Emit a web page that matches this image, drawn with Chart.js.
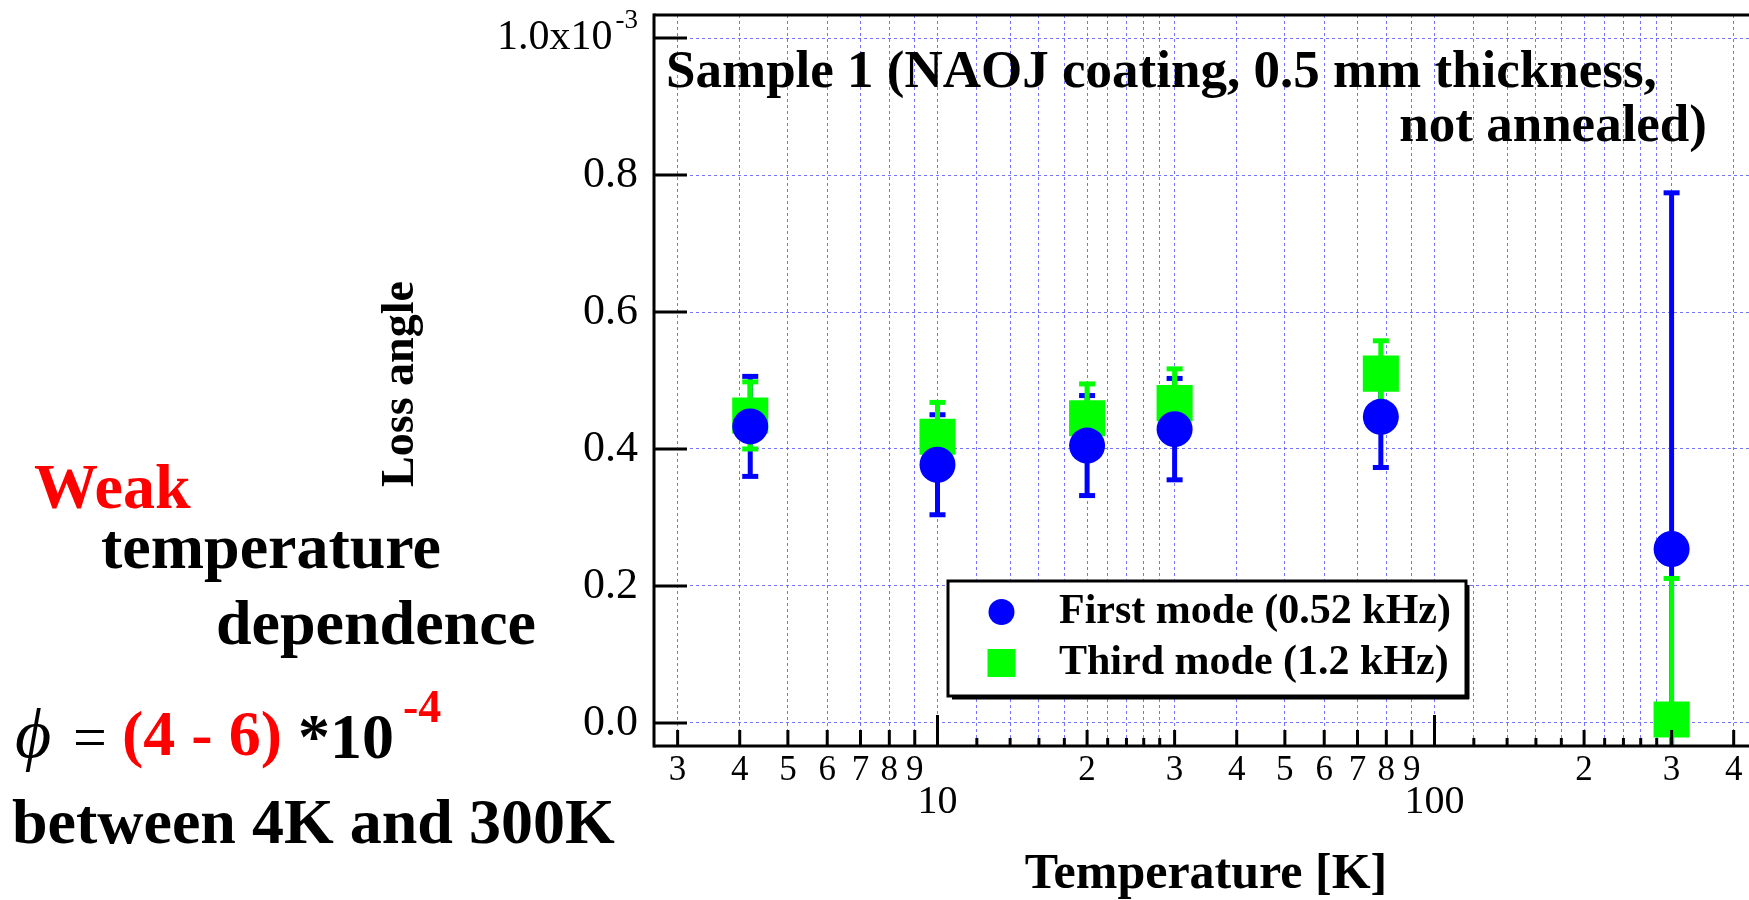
<!DOCTYPE html>
<html>
<head>
<meta charset="utf-8">
<script src="https://cdn.jsdelivr.net/npm/chart.js@4.4.0/dist/chart.umd.min.js"></script>
<style>
  html, body { margin: 0; padding: 0; background: #fff; }
</style>
</head>
<body>
<canvas id="lossChart" width="1749" height="900"></canvas>
<script>
// data (loss angle in units of 1e-3)
const temperatures = [4.2, 10, 20, 30, 78, 300];
const firstMode = [0.433, 0.377, 0.405, 0.429, 0.447, 0.254];
const firstModeErr = [0.073, 0.073, 0.073, 0.074, 0.074, 0.52];
const thirdMode = [0.449, 0.418, 0.445, 0.467, 0.510, 0.005];
const thirdModeErr = [0.049, 0.05, 0.05, 0.05, 0.048, 0.206];

const xTicks = [3,4,5,6,7,8,9,10,12,14,16,18,20,22,24,26,28,30,40,50,60,70,80,90,100,120,140,160,180,200,220,240,260,280,300,400];
const xTickLabels = ['3','4','5','6','7','8','9','10','','','','','2','','','','','3','4','5','6','7','8','9','100','','','','','2','','','','','3','4'];
const xMajor = [10, 100];
const yTicks = [0, 0.2, 0.4, 0.6, 0.8, 1.0];
const yTickLabels = ['0.0','0.2','0.4','0.6','0.8','1.0x10'];
const yExponent = '-3';

const serif = '"Liberation Serif", "Times New Roman", serif';
const gridBlue = 'rgba(90, 90, 255, 0.85)';

function line(ctx, x1, y1, x2, y2) {
  ctx.beginPath();
  ctx.moveTo(x1, y1);
  ctx.lineTo(x2, y2);
  ctx.stroke();
}

function drawErrors(ctx, xs, ys, vals, errs, color) {
  ctx.strokeStyle = color;
  ctx.lineWidth = 5;
  vals.forEach((v, i) => {
    const px = xs.getPixelForValue(temperatures[i]);
    const top = ys.getPixelForValue(v + errs[i]);
    const bot = ys.getPixelForValue(v - errs[i]);
    line(ctx, px, top, px, bot);
    line(ctx, px - 8, top, px + 8, top);
    line(ctx, px - 8, bot, px + 8, bot);
  });
}

const errorBars = {
  id: 'errorBars',
  beforeDatasetsDraw(chart) {
    const {ctx, chartArea: a, scales: {x, y}} = chart;
    ctx.save();
    ctx.beginPath();
    ctx.rect(a.left, a.top, a.right - a.left, a.bottom - a.top);
    ctx.clip();
    drawErrors(ctx, x, y, firstMode, firstModeErr, '#0000ff');
    drawErrors(ctx, x, y, thirdMode, thirdModeErr, '#00ff00');
    ctx.restore();
  }
};

const decorations = {
  id: 'decorations',
  afterDraw(chart) {
    const {ctx, chartArea: a, scales: {x, y}} = chart;
    ctx.save();

    // frame
    ctx.strokeStyle = '#000';
    ctx.lineWidth = 3;
    line(ctx, a.left, a.top, 1749, a.top);
    line(ctx, a.left, a.top - 1.5, a.left, a.bottom + 1.5);
    line(ctx, a.left, a.bottom, 1749, a.bottom);

    // inward ticks
    xTicks.forEach((v, i) => {
      const px = x.getPixelForValue(v);
      const len = xMajor.includes(v) ? 31 : (xTickLabels[i] ? 16 : 8);
      line(ctx, px, a.bottom, px, a.bottom - len);
    });
    yTicks.forEach(v => {
      const py = y.getPixelForValue(v);
      line(ctx, a.left, py, a.left + 33, py);
    });

    // tick labels
    ctx.fillStyle = '#000';
    ctx.textAlign = 'center';
    ctx.textBaseline = 'middle';
    xTicks.forEach((v, i) => {
      if (!xTickLabels[i]) return;
      const px = x.getPixelForValue(v);
      if (xMajor.includes(v)) {
        ctx.font = '40px ' + serif;
        ctx.fillText(xTickLabels[i], px, a.bottom + 56);
      } else {
        ctx.font = '35px ' + serif;
        ctx.fillText(xTickLabels[i], px, a.bottom + 25);
      }
    });
    ctx.textAlign = 'right';
    yTicks.forEach((v, i) => {
      const py = y.getPixelForValue(v);
      if (i === yTicks.length - 1) {
        ctx.font = '27px ' + serif;
        const ew = ctx.measureText(yExponent).width;
        ctx.fillText(yExponent, a.left - 16, py - 17);
        ctx.font = '42px ' + serif;
        ctx.fillText(yTickLabels[i], a.left - 19 - ew, py);
      } else {
        ctx.font = '44px ' + serif;
        ctx.fillText(yTickLabels[i], a.left - 16, py);
      }
    });

    // axis titles
    ctx.textBaseline = 'alphabetic';
    ctx.textAlign = 'center';
    ctx.font = 'bold 50px ' + serif;
    ctx.fillText('Temperature [K]', 1206, 888);
    ctx.save();
    ctx.translate(413, 384);
    ctx.rotate(-Math.PI / 2);
    ctx.font = 'bold 46px ' + serif;
    ctx.fillText('Loss angle', 0, 0);
    ctx.restore();

    // sample title
    ctx.font = 'bold 53px ' + serif;
    ctx.textAlign = 'left';
    ctx.fillText('Sample 1 (NAOJ coating, 0.5 mm thickness,', a.left + 12, 87);
    ctx.textAlign = 'right';
    ctx.fillText('not annealed)', 1707, 141);

    // legend
    const lx = 948, ly = 581, lw = 518, lh = 115;
    ctx.fillStyle = '#fff';
    ctx.fillRect(lx, ly, lw, lh);
    ctx.strokeStyle = '#000';
    ctx.lineWidth = 3;
    ctx.strokeRect(lx, ly, lw, lh);
    line(ctx, lx + lw + 2, ly + 4, lx + lw + 2, ly + lh + 3);
    line(ctx, lx + 4, ly + lh + 2, lx + lw + 3, ly + lh + 2);
    const rows = [612, 663];
    chart.data.datasets.forEach((ds, i) => {
      const cy = rows[i];
      ctx.fillStyle = ds.backgroundColor;
      if (ds.pointStyle === 'rect') {
        ctx.fillRect(1001.5 - 14, cy - 14, 28, 28);
      } else {
        ctx.beginPath();
        ctx.arc(1001.5, cy, 13, 0, Math.PI * 2);
        ctx.fill();
      }
      ctx.fillStyle = '#000';
      ctx.font = 'bold 42px ' + serif;
      ctx.textAlign = 'left';
      ctx.textBaseline = 'middle';
      ctx.fillText(ds.label, 1059, cy);
    });

    // annotation on the left
    ctx.textBaseline = 'alphabetic';
    ctx.textAlign = 'left';
    ctx.font = 'bold 64px ' + serif;
    ctx.fillStyle = '#ff0000';
    ctx.fillText('Weak', 34, 508);
    ctx.fillStyle = '#000';
    ctx.fillText('temperature', 101, 568);
    ctx.fillText('dependence', 216, 644);
    ctx.fillText('between 4K and 300K', 12, 843);

    ctx.font = 'italic 70px ' + serif;
    ctx.fillText('\u03D5', 15, 757);
    ctx.font = '60px ' + serif;
    ctx.fillText('=', 73, 757);
    ctx.font = 'bold 64px ' + serif;
    ctx.fillStyle = '#ff0000';
    ctx.fillText('(4 - 6)', 122, 755);
    ctx.fillStyle = '#000';
    ctx.fillText('*10', 298, 758);
    ctx.fillStyle = '#ff0000';
    ctx.font = 'bold 46px ' + serif;
    ctx.fillText('-4', 403, 722);

    ctx.restore();
  }
};

new Chart(document.getElementById('lossChart'), {
  type: 'scatter',
  data: {
    datasets: [
      {
        label: 'First mode (0.52 kHz)',
        data: temperatures.map((t, i) => ({x: t, y: firstMode[i]})),
        backgroundColor: '#0000ff',
        borderColor: '#0000ff',
        borderWidth: 0,
        pointStyle: 'circle',
        pointRadius: 18
      },
      {
        label: 'Third mode (1.2 kHz)',
        data: temperatures.map((t, i) => ({x: t, y: thirdMode[i]})),
        backgroundColor: '#00ff00',
        borderColor: '#00ff00',
        borderWidth: 0,
        pointStyle: 'rect',
        pointRadius: 25.5
      }
    ]
  },
  options: {
    responsive: false,
    devicePixelRatio: 1,
    animation: false,
    layout: { autoPadding: false, padding: { left: 654, top: 15, right: 0, bottom: 154 } },
    plugins: {
      legend: { display: false },
      tooltip: { enabled: false }
    },
    scales: {
      x: {
        type: 'logarithmic',
        min: 2.689,
        max: 429.4,
        afterBuildTicks: s => { s.ticks = xTicks.map(v => ({value: v})); },
        ticks: { display: false },
        grid: { color: gridBlue, lineWidth: 1, drawTicks: false },
        border: { display: false, dash: [3, 3] }
      },
      y: {
        type: 'linear',
        min: -0.0336,
        max: 1.0336,
        afterBuildTicks: s => { s.ticks = yTicks.map(v => ({value: v})); },
        ticks: { display: false },
        grid: { color: gridBlue, lineWidth: 1, drawTicks: false },
        border: { display: false, dash: [3, 3] }
      }
    }
  },
  plugins: [errorBars, decorations]
});
</script>
</body>
</html>
